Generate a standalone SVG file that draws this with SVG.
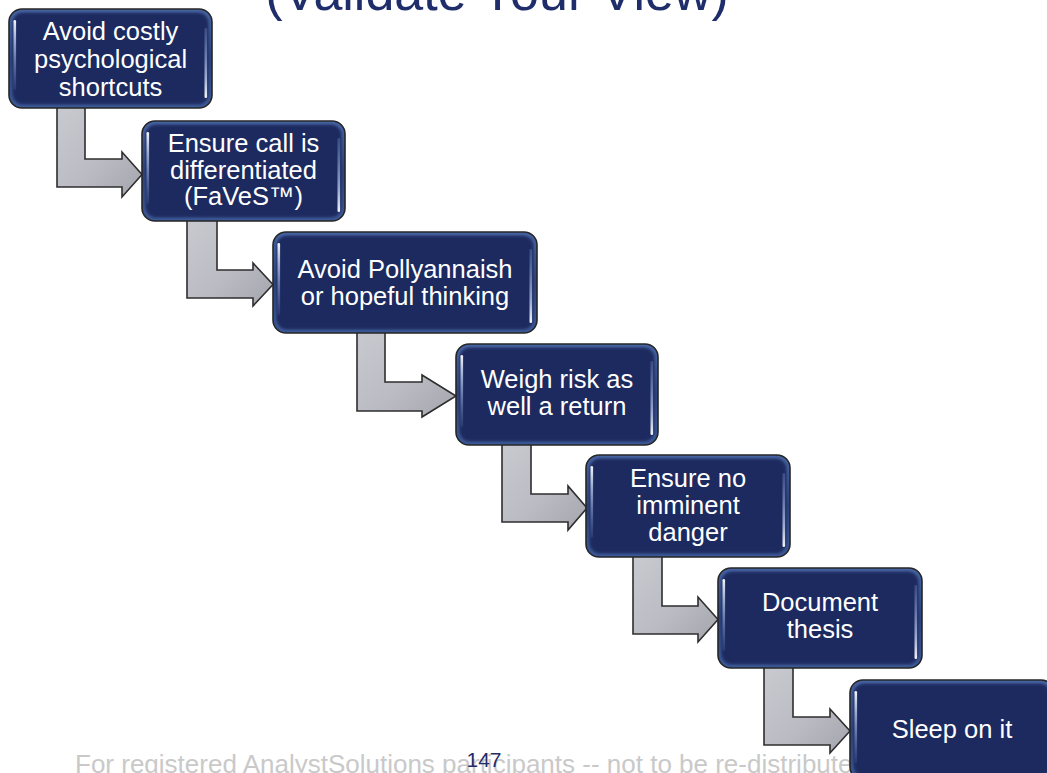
<svg xmlns="http://www.w3.org/2000/svg" width="1047" height="773" viewBox="0 0 1047 773">
  <defs>
    <linearGradient id="arrowGrad" x1="0" y1="0" x2="1" y2="1">
      <stop offset="0" stop-color="#c9cad0"/>
      <stop offset="0.55" stop-color="#bbbcc3"/>
      <stop offset="1" stop-color="#a3a4ac"/>
    </linearGradient>
    <linearGradient id="rimGrad" x1="0" y1="0" x2="0" y2="1">
      <stop offset="0" stop-color="#4a68a8"/>
      <stop offset="0.5" stop-color="#2d4480"/>
      <stop offset="1" stop-color="#3f5c9c"/>
    </linearGradient>
    <linearGradient id="hlL" x1="0" y1="0" x2="0" y2="1">
      <stop offset="0" stop-color="#ffffff" stop-opacity="0.95"/>
      <stop offset="0.3" stop-color="#cfe0ff" stop-opacity="0.7"/>
      <stop offset="1" stop-color="#8fb0ee" stop-opacity="0.1"/>
    </linearGradient>
    <linearGradient id="hlR" x1="0" y1="0" x2="0" y2="1">
      <stop offset="0" stop-color="#8fb0ee" stop-opacity="0.25"/>
      <stop offset="0.7" stop-color="#cfe0ff" stop-opacity="0.7"/>
      <stop offset="1" stop-color="#ffffff" stop-opacity="0.95"/>
    </linearGradient>
    <filter id="soft" x="-5%" y="-5%" width="110%" height="110%">
      <feGaussianBlur stdDeviation="1.6"/>
    </filter>
  </defs>
  <style>
    .title { font-family: "Liberation Sans", Arial, sans-serif; font-size: 52px; fill: #1f2d6b; }
    .footer { font-family: "Liberation Sans", Arial, sans-serif; font-size: 26px; fill: #c9c9c9; }
    .page { font-family: "Liberation Sans", Arial, sans-serif; font-size: 21px; fill: #1f2d6b; }
    .rim { fill: url(#rimGrad); stroke: #262626; stroke-width: 1.6; }
    .face { fill: #1f2a5f; filter: url(#soft); }
    .hlL { fill: url(#hlL); }
    .hlR { fill: url(#hlR); }
    .label { font-family: "Liberation Sans", Arial, sans-serif; font-size: 25.5px; fill: #ffffff; text-anchor: middle; }
    .arrow { fill: url(#arrowGrad); stroke: #2e2e2e; stroke-width: 1.6; stroke-linejoin: miter; }
  </style>

  <text class="title" x="497" y="10" text-anchor="middle">(Validate Your View)</text>

  <g id="footer">
    <text class="footer" x="75" y="773">For registered AnalystSolutions participants -- not to be re-distributed</text>
    <text class="page" x="484" y="767" text-anchor="middle">147</text>
  </g>

  <g id="connectors">
    <polygon class="arrow" points="57,106 85,106 85,159 122,159 122,152 142,174.5 122,197 122,187 57,187"/>
    <polygon class="arrow" points="187,220 217,220 217,270 253,270 253,263 273,284.5 253,306 253,298 187,298"/>
    <polygon class="arrow" points="357,331 385,331 385,382 422,382 422,375 456,396 422,417 422,411 357,411"/>
    <polygon class="arrow" points="502,443 531,443 531,494 568,494 568,486 587,508 568,530 568,522 502,522"/>
    <polygon class="arrow" points="633,555 662,555 662,606 698,606 698,597 718,619.5 698,642 698,634 633,634"/>
    <polygon class="arrow" points="764,666 793,666 793,717 830,717 830,709 850,731 830,753 830,745 764,745"/>
  </g>

  <g id="node1">
    <rect class="rim" x="9" y="9" width="203" height="99" rx="13"/>
    <rect class="face" x="12.5" y="12.5" width="196" height="92" rx="10"/>
    <rect class="hlL" x="13.5" y="20" width="2.6" height="70" rx="1.3"/>
    <rect class="hlR" x="204.5" y="28" width="2.6" height="70" rx="1.3"/>
    <text class="label" x="110.5" y="39.5">Avoid costly</text>
    <text class="label" x="110.5" y="67.5">psychological</text>
    <text class="label" x="110.5" y="95.5">shortcuts</text>
  </g>

  <g id="node2">
    <rect class="rim" x="142" y="121" width="203" height="100" rx="13"/>
    <rect class="face" x="145.5" y="124.5" width="196" height="93" rx="10"/>
    <rect class="hlL" x="146.5" y="132" width="2.6" height="72" rx="1.3"/>
    <rect class="hlR" x="337.5" y="138" width="2.6" height="74" rx="1.3"/>
    <text class="label" x="243.5" y="152">Ensure call is</text>
    <text class="label" x="243.5" y="179">differentiated</text>
    <text class="label" x="243.5" y="205">(FaVeS™)</text>
  </g>

  <g id="node3">
    <rect class="rim" x="273" y="232" width="264" height="101" rx="13"/>
    <rect class="face" x="276.5" y="235.5" width="257" height="94" rx="10"/>
    <rect class="hlL" x="277.5" y="243" width="2.6" height="72" rx="1.3"/>
    <rect class="hlR" x="529.5" y="249" width="2.6" height="74" rx="1.3"/>
    <text class="label" x="405" y="277.5">Avoid Pollyannaish</text>
    <text class="label" x="405" y="305">or hopeful thinking</text>
  </g>

  <g id="node4">
    <rect class="rim" x="456" y="344" width="202" height="101" rx="13"/>
    <rect class="face" x="459.5" y="347.5" width="195" height="94" rx="10"/>
    <rect class="hlL" x="460.5" y="355" width="2.6" height="72" rx="1.3"/>
    <rect class="hlR" x="650.5" y="361" width="2.6" height="74" rx="1.3"/>
    <text class="label" x="557" y="387.5">Weigh risk as</text>
    <text class="label" x="557" y="414.5">well a return</text>
  </g>

  <g id="node5">
    <rect class="rim" x="586" y="455" width="204" height="102" rx="13"/>
    <rect class="face" x="589.5" y="458.5" width="197" height="95" rx="10"/>
    <rect class="hlL" x="590.5" y="466" width="2.6" height="72" rx="1.3"/>
    <rect class="hlR" x="782.5" y="473" width="2.6" height="74" rx="1.3"/>
    <text class="label" x="688" y="487">Ensure no</text>
    <text class="label" x="688" y="514">imminent</text>
    <text class="label" x="688" y="540.5">danger</text>
  </g>

  <g id="node6">
    <rect class="rim" x="718" y="568" width="204" height="100" rx="13"/>
    <rect class="face" x="721.5" y="571.5" width="197" height="93" rx="10"/>
    <rect class="hlL" x="722.5" y="579" width="2.6" height="72" rx="1.3"/>
    <rect class="hlR" x="914.5" y="585" width="2.6" height="74" rx="1.3"/>
    <text class="label" x="820" y="610.5">Document</text>
    <text class="label" x="820" y="638">thesis</text>
  </g>

  <g id="node7">
    <rect class="rim" x="850" y="680" width="204" height="100" rx="13"/>
    <rect class="face" x="853.5" y="683.5" width="197" height="93" rx="10"/>
    <rect class="hlL" x="854.5" y="691" width="2.6" height="72" rx="1.3"/>
    <text class="label" x="952" y="738">Sleep on it</text>
  </g>
</svg>
